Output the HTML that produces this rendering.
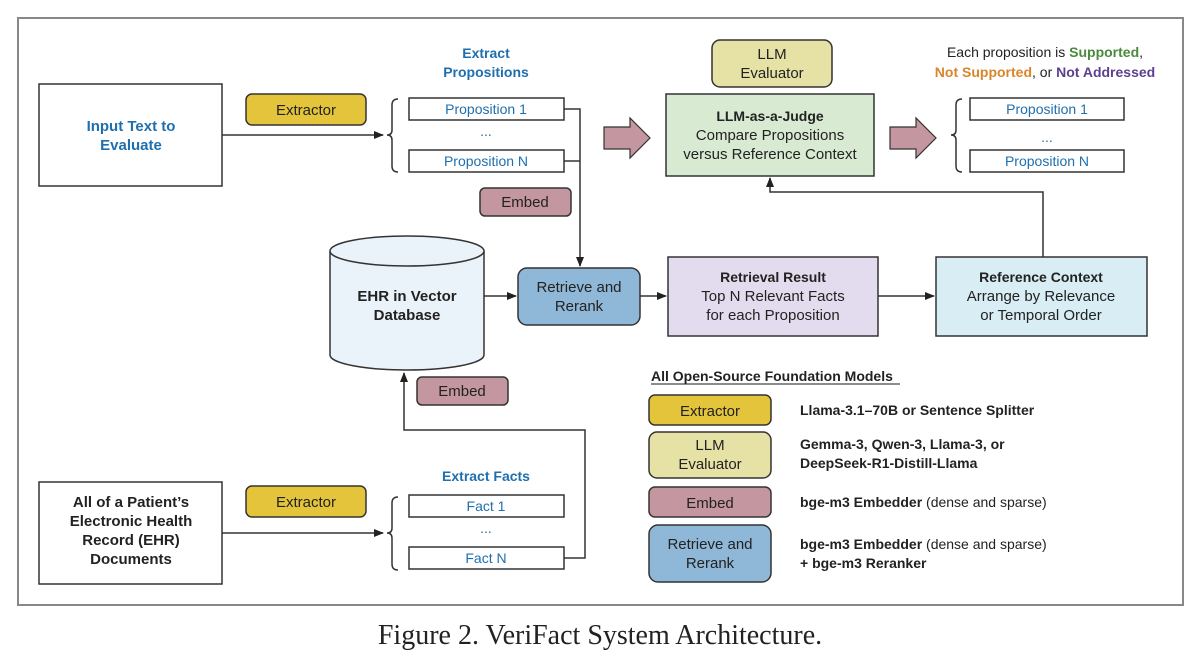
<!DOCTYPE html>
<html><head><meta charset="utf-8"><style>
html,body{margin:0;padding:0;background:#fff}
svg{display:block}
text{font-family:"Liberation Sans",sans-serif}
</style></head><body>
<svg width="1200" height="662" viewBox="0 0 1200 662" xmlns="http://www.w3.org/2000/svg">
<defs><marker id="a" markerWidth="10" markerHeight="8" refX="9" refY="4" orient="auto" markerUnits="userSpaceOnUse"><path d="M0,0 L10,4 L0,8 Z" fill="#222"/></marker></defs>
<rect x="18" y="18" width="1165" height="587" fill="#fff" stroke="#888" stroke-width="2"/>
<g stroke="#333" stroke-width="1.5" fill="none">
<rect x="39" y="84" width="183" height="102" fill="#fff"/>
<rect x="39" y="482" width="183" height="102" fill="#fff"/>
<line x1="222" y1="135" x2="383" y2="135" marker-end="url(#a)"/>
<line x1="222" y1="533" x2="383" y2="533" marker-end="url(#a)"/>
<path d="M398,99 Q392,99 392,105 L392,130 Q392,135 387,135 Q392,135 392,140 L392,166 Q392,172 398,172"/>
<path d="M398,497 Q392,497 392,503 L392,528 Q392,533 387,533 Q392,533 392,538 L392,564 Q392,570 398,570"/>
<path d="M962,99 Q956,99 956,105 L956,130 Q956,135 951,135 Q956,135 956,140 L956,166 Q956,172 962,172"/>
<rect x="409" y="98" width="155" height="22" fill="#fff"/>
<rect x="409" y="150" width="155" height="22" fill="#fff"/>
<rect x="409" y="495" width="155" height="22" fill="#fff"/>
<rect x="409" y="547" width="155" height="22" fill="#fff"/>
<rect x="970" y="98" width="154" height="22" fill="#fff"/>
<rect x="970" y="150" width="154" height="22" fill="#fff"/>
<path d="M564,109 H580 V266" marker-end="url(#a)"/>
<path d="M564,161 H580"/>
<path d="M564,558 H585 V430 H404 V373" marker-end="url(#a)"/>
<line x1="484" y1="296" x2="516" y2="296" marker-end="url(#a)"/>
<line x1="640" y1="296" x2="666" y2="296" marker-end="url(#a)"/>
<line x1="878" y1="296" x2="934" y2="296" marker-end="url(#a)"/>
<path d="M1043,257 V192 H770 V178" marker-end="url(#a)"/>
<path d="M330,251 V355 A77,15 0 0 0 484,355 V251" fill="#eaf2fa"/>
<ellipse cx="407" cy="251" rx="77" ry="15" fill="#eaf2fa"/>
<rect x="246" y="94" width="120" height="31" rx="6" fill="#e4c43a"/>
<rect x="246" y="486" width="120" height="31" rx="6" fill="#e4c43a"/>
<rect x="480" y="188" width="91" height="28" rx="5" fill="#c4969f"/>
<rect x="417" y="377" width="91" height="28" rx="5" fill="#c4969f"/>
<rect x="518" y="268" width="122" height="57" rx="9" fill="#8fb8d8"/>
<rect x="668" y="257" width="210" height="79" fill="#e3dcee"/>
<rect x="936" y="257" width="211" height="79" fill="#d8edf4"/>
<rect x="666" y="94" width="208" height="82" fill="#d8ebd2"/>
<rect x="712" y="40" width="120" height="47" rx="8" fill="#e6e2a6"/>
<rect x="649" y="395" width="122" height="30" rx="6" fill="#e4c43a"/>
<rect x="649" y="432" width="122" height="46" rx="8" fill="#e6e2a6"/>
<rect x="649" y="487" width="122" height="30" rx="6" fill="#c4969f"/>
<rect x="649" y="525" width="122" height="57" rx="9" fill="#8fb8d8"/>
<path d="M604,127 H630 V118 L650,138 L630,158 V149 H604 Z" fill="#c4969f" stroke-width="1.2"/>
<path d="M890,127 H916 V118 L936,138 L916,158 V149 H890 Z" fill="#c4969f" stroke-width="1.2"/>
<line x1="651" y1="384" x2="900" y2="384" stroke="#666"/>
</g>
<g font-size="15" text-anchor="middle" fill="#222">
<text x="131" y="131" fill="#1f6fae" font-weight="bold">Input Text to</text>
<text x="131" y="150" fill="#1f6fae" font-weight="bold">Evaluate</text>
<text x="131" y="507" font-weight="bold">All of a Patient’s</text>
<text x="131" y="526" font-weight="bold">Electronic Health</text>
<text x="131" y="545" font-weight="bold">Record (EHR)</text>
<text x="131" y="564" font-weight="bold">Documents</text>
<text x="486" y="58" fill="#1f6fae" font-weight="bold" font-size="14">Extract</text>
<text x="486" y="77" fill="#1f6fae" font-weight="bold" font-size="14">Propositions</text>
<text x="486" y="481" fill="#1f6fae" font-weight="bold" font-size="14">Extract Facts</text>
<g fill="#1f6fae" font-size="14">
<text x="486" y="114">Proposition 1</text><text x="486" y="136">...</text><text x="486" y="166">Proposition N</text>
<text x="486" y="511">Fact 1</text><text x="486" y="533">...</text><text x="486" y="563">Fact N</text>
<text x="1047" y="114">Proposition 1</text><text x="1047" y="142">...</text><text x="1047" y="166">Proposition N</text>
</g>
<text x="306" y="115">Extractor</text>
<text x="306" y="507">Extractor</text>
<text x="525" y="207">Embed</text>
<text x="462" y="396">Embed</text>
<text x="407" y="301" font-weight="bold">EHR in Vector</text>
<text x="407" y="320" font-weight="bold">Database</text>
<text x="579" y="292">Retrieve and</text>
<text x="579" y="311">Rerank</text>
<text x="773" y="282" font-weight="bold" font-size="14">Retrieval Result</text>
<text x="773" y="301">Top N Relevant Facts</text>
<text x="773" y="320">for each Proposition</text>
<text x="1041" y="282" font-weight="bold" font-size="14">Reference Context</text>
<text x="1041" y="301">Arrange by Relevance</text>
<text x="1041" y="320">or Temporal Order</text>
<text x="770" y="121" font-weight="bold" font-size="14">LLM-as-a-Judge</text>
<text x="770" y="140">Compare Propositions</text>
<text x="770" y="159">versus Reference Context</text>
<text x="772" y="59">LLM</text>
<text x="772" y="78">Evaluator</text>
<text x="1045" y="57" font-size="14">Each proposition is <tspan fill="#4a8a3c" font-weight="bold">Supported</tspan>,</text>
<text x="1045" y="77" font-size="14"><tspan fill="#d9862a" font-weight="bold">Not Supported</tspan>, or <tspan fill="#5b3f91" font-weight="bold">Not Addressed</tspan></text>
<text x="710" y="416">Extractor</text>
<text x="710" y="450">LLM</text>
<text x="710" y="469">Evaluator</text>
<text x="710" y="508">Embed</text>
<text x="710" y="549">Retrieve and</text>
<text x="710" y="568">Rerank</text>
</g>
<g font-size="14" fill="#222">
<text x="651" y="381" font-weight="bold">All Open-Source Foundation Models</text>
<text x="800" y="415" font-weight="bold">Llama-3.1–70B or Sentence Splitter</text>
<text x="800" y="449" font-weight="bold">Gemma-3, Qwen-3, Llama-3, or</text>
<text x="800" y="468" font-weight="bold">DeepSeek-R1-Distill-Llama</text>
<text x="800" y="507"><tspan font-weight="bold">bge-m3 Embedder</tspan> (dense and sparse)</text>
<text x="800" y="549"><tspan font-weight="bold">bge-m3 Embedder</tspan> (dense and sparse)</text>
<text x="800" y="568" font-weight="bold">+ bge-m3 Reranker</text>
</g>
<text x="600" y="644" text-anchor="middle" font-size="28" style="font-family:'Liberation Serif',serif" fill="#222">Figure 2.  VeriFact System Architecture.</text>
</svg>
</body></html>
